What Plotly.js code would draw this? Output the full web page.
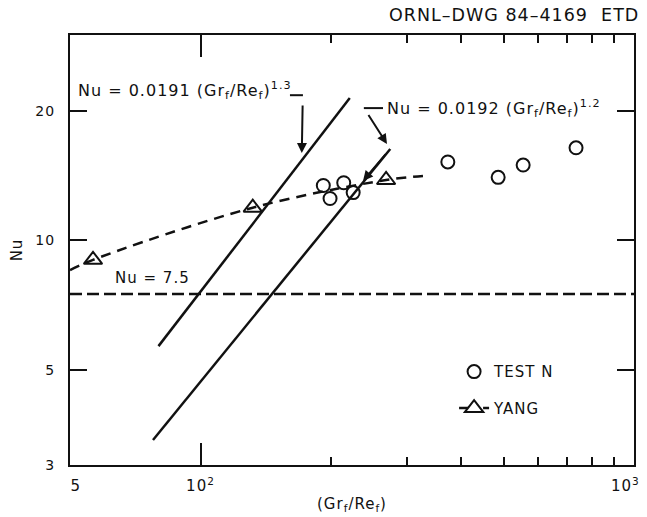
<!DOCTYPE html>
<html>
<head>
<meta charset="utf-8">
<script src="https://cdn.plot.ly/plotly-3.0.1.min.js"></script>
<style>
html,body{margin:0;padding:0;background:#fff;}
#chart{width:647px;height:517px;}
text{letter-spacing:1px;}
</style>
</head>
<body>
<div id="chart"></div>
<script>
// ---- data ----
const testNX = [192, 199, 214, 225, 372, 486, 555, 735];
const testNY = [13.4, 12.5, 13.6, 12.9, 15.2, 14.0, 14.95, 16.4];

// YANG points (triangles) and the dashed curve drawn through them
const yangX = [56.5, 132, 268];
const yangY = [9.0, 11.9, 13.8];
const yangCurveX = [50, 56.5, 132, 268, 326];
const yangCurveY = [8.52, 9.0, 11.9, 13.8, 14.1];

// correlation lines (end points)
const corr13X = [80, 221];
const corr13Y = [5.67, 21.4];
const corr12X = [77.7, 274];
const corr12Y = [3.43, 16.3];

// Nu = 7.5 limit
const nu75X = [50, 1000];
const nu75Y = [7.5, 7.5];

const NB = '\u00a0';
const xTickVals = [50, 100, 1000];
const xTickText = [NB + NB + '5', '10<sup>2</sup>', '10<sup>3</sup>' + NB + NB + NB];
const xMinorVals = [200, 300, 400, 500, 600, 700, 800, 900];
const yTickVals = [3, 5, 10, 20];
const yTickText = ['3', '5', '10', '20'];

const FONT = 'DejaVu Sans, Verdana, sans-serif';
const K = '#111';

const yangMarker = {symbol: 'triangle-up-open', size: 16, color: K, line: {width: 2, color: K}};

const traces = [
  {x: nu75X, y: nu75Y, mode: 'lines', showlegend: false,
   line: {color: K, width: 2.5, dash: '12px,5px'}},
  {x: corr13X, y: corr13Y, mode: 'lines', showlegend: false,
   line: {color: K, width: 2.5}},
  {x: corr12X, y: corr12Y, mode: 'lines', showlegend: false,
   line: {color: K, width: 2.5}},
  {x: yangCurveX, y: yangCurveY, mode: 'lines', showlegend: false,
   line: {color: K, width: 2.5, dash: '10px,7px', shape: 'spline', smoothing: 1}},
  {x: testNX, y: testNY, mode: 'markers', name: 'TEST N', legendgroup: 'a',
   marker: {symbol: 'circle-open', size: 13, color: K, line: {width: 2, color: K}}},
  {x: yangX, y: yangY, mode: 'markers', name: 'YANG', legendgroup: 'b', showlegend: false,
   marker: yangMarker},
  // legend entry for YANG (dash - triangle - dash)
  {x: [null], y: [null], mode: 'lines+markers', name: 'YANG', legendgroup: 'b',
   line: {color: K, width: 2.5, dash: '9px,15px,7px'}, marker: yangMarker}
];

const layout = {
  width: 647, height: 517,
  margin: {l: 70, r: 13, t: 35, b: 52},
  paper_bgcolor: '#fff', plot_bgcolor: '#fff',
  font: {family: FONT, size: 15, color: K},
  showlegend: true,
  legend: {x: 0.681, y: 0.255, xanchor: 'left', yanchor: 'top',
           bgcolor: 'rgba(0,0,0,0)', borderwidth: 0, tracegroupgap: 14,
           traceorder: 'grouped',
           font: {family: FONT, size: 15, color: K}},
  xaxis: {
    type: 'log', range: [Math.log10(50), 3],
    showline: true, linecolor: K, linewidth: 2, mirror: 'allticks',
    showgrid: false, zeroline: false,
    ticks: 'inside', ticklen: 22, tickwidth: 2, tickcolor: K,
    tickmode: 'array', tickvals: xTickVals, ticktext: xTickText,
    tickfont: {family: FONT, size: 15, color: K},
    ticklabelstandoff: 6, ticklabeloverflow: 'allow',
    minor: {tickmode: 'array', tickvals: xMinorVals, ticks: 'inside', ticklen: 8, tickwidth: 2, tickcolor: K, showgrid: false},
    title: {text: NB + NB + NB + '(Gr<sub>f</sub>/Re<sub>f</sub>)', font: {family: FONT, size: 15, color: K}, standoff: 4}
  },
  yaxis: {
    type: 'log', range: [Math.log10(3), Math.log10(30)],
    showline: true, linecolor: K, linewidth: 2, mirror: 'allticks',
    showgrid: false, zeroline: false,
    ticks: 'inside', ticklen: 17, tickwidth: 2, tickcolor: K,
    tickmode: 'array', tickvals: yTickVals, ticktext: yTickText,
    tickfont: {family: FONT, size: 14, color: K},
    ticklabelstandoff: 10,
    title: {text: 'Nu', font: {family: FONT, size: 15, color: K}, standoff: 9}
  },
  annotations: [
    {xref: 'paper', yref: 'paper', x: 1.012, y: 1.0465, xanchor: 'right', yanchor: 'middle',
     text: 'ORNL–DWG 84–4169  ETD', showarrow: false, font: {family: FONT, size: 17.5, color: K}},
    {xref: 'paper', yref: 'paper', x: 0.0106, y: 0.872, xanchor: 'left', yanchor: 'middle',
     text: 'Nu = 0.0191 (Gr<sub>f</sub>/Re<sub>f</sub>)<sup>1.3</sup>', showarrow: false,
     font: {family: FONT, size: 16, color: K}},
    {xref: 'paper', yref: 'paper', x: 0.5585, y: 0.830, xanchor: 'left', yanchor: 'middle',
     text: 'Nu = 0.0192 (Gr<sub>f</sub>/Re<sub>f</sub>)<sup>1.2</sup>', showarrow: false,
     font: {family: FONT, size: 16, color: K}},
    {xref: 'paper', yref: 'paper', x: 0.076, y: 0.435, xanchor: 'left', yanchor: 'middle',
     text: 'Nu = 7.5', showarrow: false, font: {family: FONT, size: 15, color: K}},
    {xref: 'paper', yref: 'paper', x: 0.411, y: 0.7256, text: ' ', showarrow: true,
     ax: 1, ay: -58, arrowhead: 2, arrowsize: 1, arrowwidth: 2, arrowcolor: K},
    {xref: 'paper', yref: 'paper', x: 0.562, y: 0.7465, text: ' ', showarrow: true,
     ax: -23, ay: -36, arrowhead: 2, arrowsize: 1, arrowwidth: 2, arrowcolor: K},
    {xref: 'paper', yref: 'paper', x: 0.5195, y: 0.6605, text: ' ', showarrow: true,
     ax: 27, ay: -32, arrowhead: 2, arrowsize: 1, arrowwidth: 2, arrowcolor: K}
  ],
  shapes: [
    {type: 'line', xref: 'paper', yref: 'paper', x0: 0.390, x1: 0.413, y0: 0.860, y1: 0.860,
     line: {color: K, width: 2}},
    {type: 'line', xref: 'paper', yref: 'paper', x0: 0.521, x1: 0.555, y0: 0.830, y1: 0.830,
     line: {color: K, width: 2}}
  ]
};

Plotly.newPlot('chart', traces, layout, {displayModeBar: false, staticPlot: true});
</script>
</body>
</html>
